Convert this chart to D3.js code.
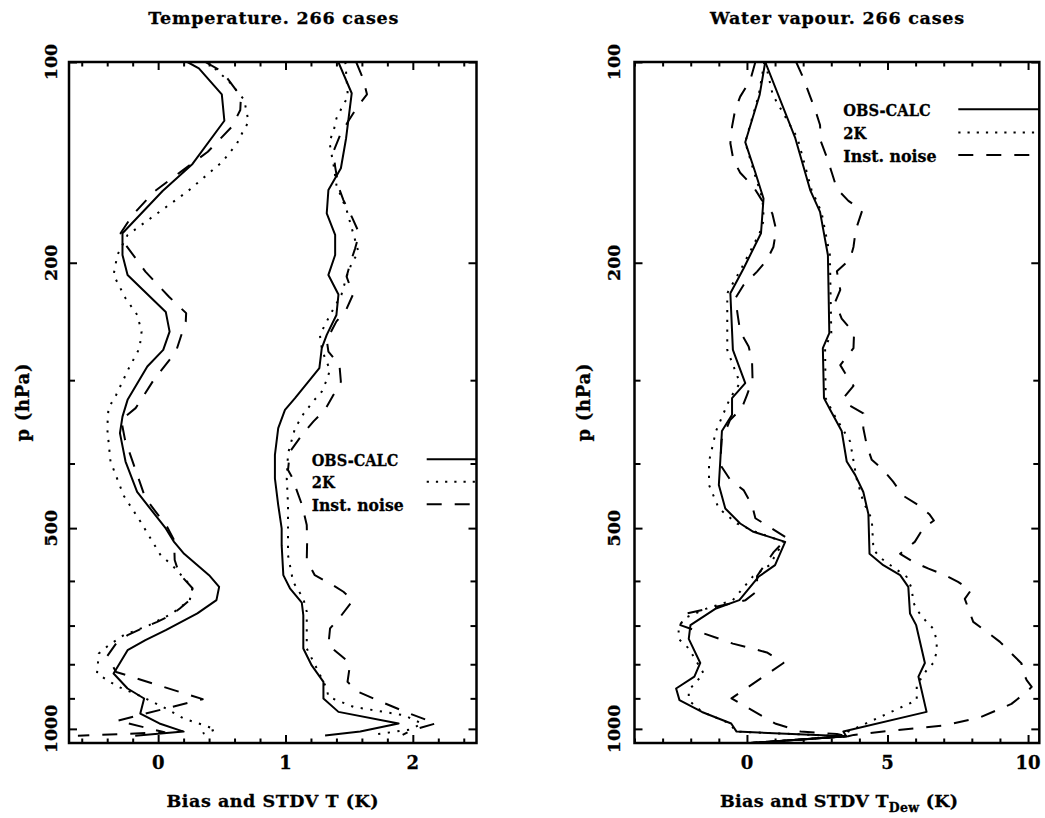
<!DOCTYPE html>
<html>
<head>
<meta charset="utf-8">
<script src="https://cdn.jsdelivr.net/npm/d3@7"></script>
<style>
  html, body { margin: 0; padding: 0; background: #fff; }
  svg { display: block; }
  text { font-family: "DejaVu Serif", serif; font-weight: bold; fill: #000; stroke: #000; stroke-width: 0.3px; }
</style>
</head>
<body>
<script>
// ---- Profiles: [pressure (hPa), value (K)] ----
// Temperature panel
const tempBiasObs = [[100,0.23],[102.2,0.32],[111.8,0.50],[122.5,0.52],[142.2,0.27],[156.1,0.035],[180.6,-0.28],[194.7,-0.28],[208.6,-0.24],[237,0.06],[253.7,0.09],[270.2,0.04],[286.2,-0.085],[321.1,-0.24],[340.2,-0.28],[360.2,-0.30],[397.3,-0.256],[441.3,-0.165],[500.5,0.06],[524.3,0.125],[546.4,0.204],[588.2,0.40],[612.4,0.479],[641.2,0.458],[671.3,0.308],[711.2,0.06],[736.2,-0.10],[762.1,-0.24],[826,-0.35],[869.9,-0.24],[900.4,-0.11],[948.4,-0.14],[981.5,0.01],[1009.4,0.2],[1024,-0.18]];
const tempBias2K = [[100,0.39],[107,0.557],[114,0.676],[122.9,0.71],[127.8,0.66],[132.4,0.62],[141.1,0.505],[156.4,0.23],[181.7,-0.24],[194.7,-0.32],[208.6,-0.35],[226.1,-0.256],[239.5,-0.164],[253.7,-0.13],[268.6,-0.146],[287.8,-0.23],[315.8,-0.33],[330.4,-0.39],[354.1,-0.40],[397.3,-0.374],[447.1,-0.27],[489.2,-0.138],[549.2,0.02],[568.2,0.11],[598.4,0.217],[614.2,0.27],[641.2,0.248],[671.3,0.11],[699,-0.07],[723.6,-0.27],[748.9,-0.387],[771,-0.466],[826,-0.48],[845.3,-0.40],[865.1,-0.31],[895.4,-0.124],[932,0.06],[964.8,0.20],[987.6,0.36],[1002.3,0.45],[1016.2,0.35]];
const tempBiasNoise = [[100,0.37],[103.4,0.505],[112.7,0.65],[118,0.645],[125,0.58],[136.3,0.39],[146,0.18],[156.4,-0.03],[169.6,-0.20],[180.6,-0.295],[187.9,-0.256],[206.2,-0.10],[224.9,0.085],[238,0.22],[244.9,0.217],[271.8,0.14],[299.8,-0.035],[315.8,-0.11],[330.4,-0.177],[344.2,-0.29],[368.6,-0.26],[450.8,-0.10],[497.7,0.07],[521.2,0.125],[558.1,0.13],[584.7,0.164],[615.4,0.27],[638.9,0.256],[659.8,0.17],[675.3,0.10],[691.2,-0.007],[699,-0.07],[723.6,-0.24],[744.6,-0.33],[778,-0.40],[821.5,-0.33],[902.5,0.35],[972.2,-0.32],[1012,0.05],[1024,-0.63]];
const tempStdvObs = [[100,1.415],[111.4,1.52],[130.1,1.476],[144.3,1.435],[155.6,1.337],[168.6,1.324],[181.7,1.39],[194.7,1.39],[208.6,1.337],[223.2,1.416],[239.5,1.40],[256.6,1.324],[268.6,1.285],[287.8,1.266],[319.2,1.075],[332.3,0.996],[354.1,0.943],[388.3,0.917],[421.1,0.917],[461.7,0.943],[500.5,0.97],[530.3,0.97],[588.2,0.983],[615.4,1.035],[646.9,1.128],[675.3,1.14],[757.5,1.14],[803.3,1.206],[850.1,1.298],[900.4,1.298],[943,1.416],[981.5,1.888],[1009.4,1.587],[1023,1.311]];
const tempStdv2K = [[100,1.47],[112.7,1.49],[117.3,1.44],[121.5,1.40],[126.4,1.38],[131.7,1.345],[137,1.36],[143.5,1.38],[152.9,1.40],[166.7,1.48],[192.7,1.573],[200.4,1.52],[209.8,1.48],[223.2,1.44],[239.5,1.35],[256.6,1.27],[268.6,1.285],[278,1.31],[289.4,1.35],[299.8,1.324],[312.1,1.285],[322.3,1.22],[337.4,1.14],[354.1,1.075],[386.3,1.02],[421.1,1.01],[461.7,1.02],[506.4,1.02],[549.2,1.02],[601.9,1.06],[637.6,1.14],[667.5,1.167],[757.5,1.167],[811.1,1.245],[869.9,1.324],[895.4,1.337],[926.8,1.534],[954,1.93],[981.5,2.07],[1002.3,1.98],[1020.9,1.68]];
const tempStdvNoise = [[100,1.555],[105.8,1.608],[111.8,1.64],[116.7,1.565],[122.9,1.49],[128.6,1.43],[136.3,1.376],[143.5,1.39],[153.8,1.416],[161.1,1.455],[170.6,1.52],[179.6,1.573],[184.9,1.565],[190.3,1.547],[200.4,1.508],[209.8,1.48],[223.2,1.53],[235.4,1.476],[244.9,1.40],[261,1.324],[271.8,1.337],[284.8,1.424],[301.6,1.435],[315.8,1.376],[332.3,1.31],[345.9,1.22],[360.2,1.14],[384,1.035],[409,1.02],[418.8,1.05],[461.7,1.13],[494.8,1.167],[524.3,1.17],[558.5,1.167],[588.2,1.23],[605.2,1.35],[622.9,1.455],[641.2,1.53],[679.2,1.43],[707,1.35],[748.9,1.337],[775,1.43],[797.8,1.508],[850.1,1.487],[880.4,1.573],[900.4,1.69],[943,1.94],[981.5,2.18],[1004.6,1.99],[1021,1.92]];

// Water vapour panel (dew point)
const wvBiasObs = [[100,0.65],[112.1,0.45],[131.9,-0.06],[146.1,0.29],[160.2,0.59],[180.6,0.50],[204,-0.12],[222.2,-0.59],[270.2,-0.50],[303,-0.06],[319.2,-0.53],[338.1,-0.53],[357.5,-0.89],[397.3,-0.95],[430.9,-1.0],[467.2,-0.77],[492.1,-0.24],[506.4,0.23],[524.3,1.36],[568.2,1.0],[591.5,0.41],[641.2,-0.27],[659.8,-1.1],[699,-2.01],[732.9,-2.07],[796.5,-1.66],[834.8,-1.87],[869.9,-2.52],[905.6,-2.4],[943.3,-1.6],[981.5,-0.56],[1009.4,-0.37],[1026,3.53],[1051,0]];
const wvBias2K = [[100,0.62],[112.1,0.42],[131.9,-0.06],[146.1,0.25],[160.2,0.55],[172.6,0.6],[180.6,0.45],[204,-0.20],[222.2,-0.70],[270.2,-0.70],[303,-0.25],[319.2,-0.6],[357.5,-1.1],[397.3,-1.35],[430.9,-1.35],[467.2,-1.0],[492.1,-0.35],[506.4,0.3],[524.3,1.3],[568.2,0.8],[591.5,0.2],[641.2,-0.5],[659.8,-1.42],[683,-2.25],[707.5,-2.43],[732.9,-2.43],[757.5,-2.07],[826,-1.54],[875,-2.07],[905.7,-2.07],[943,-1.6],[981.5,-0.6],[1009.4,-0.4],[1026,3.5],[1051,0]];
const wvBiasNoise = [[100,0.3],[106.4,0.12],[112.7,-0.24],[118,-0.42],[125,-0.53],[132.4,-0.59],[140.3,-0.48],[146.6,-0.24],[153.8,0.23],[161.1,0.53],[168.6,0.9],[178.6,1.04],[189.4,0.94],[198.1,0.71],[206.2,0.36],[216,-0.12],[226.1,-0.41],[239.5,-0.33],[253.7,-0.24],[267.1,0.06],[279.6,0.18],[299.8,0.2],[315.8,0],[330.4,-0.18],[344.2,-0.6],[368.6,-0.9],[401.6,-0.95],[423.6,-0.59],[438.5,-0.12],[461.7,0.18],[483.2,0.3],[517.6,1.43],[543.2,0.95],[589.9,0.36],[621.5,0.36],[641.2,-0.05],[673,-2.25],[699,-2.37],[745,-0.5],[768,0.71],[796.5,1.3],[900,-0.55],[981.5,1.0],[1009,1.9],[1018,3.2],[1026,3.6],[1051,0]];
const wvStdvObs = [[100,0.65],[130.1,1.72],[155.6,2.25],[167.8,2.6],[194.7,2.88],[255.1,2.93],[268.6,2.70],[319.2,2.74],[332.3,2.96],[357.5,3.37],[397.3,3.55],[416,3.85],[441.3,4.14],[476.2,4.32],[546.4,4.36],[568.2,4.85],[588.2,5.45],[612.4,5.74],[671.3,5.80],[699,6.02],[796.5,6.33],[834.8,6.10],[943,6.39],[1009.4,3.43],[1026,3.53],[1051,0]];
const wvStdv2K = [[100,0.65],[112.1,0.92],[130.1,1.8],[155.6,2.3],[167.8,2.65],[194.7,2.95],[255.1,3.0],[268.6,2.78],[319.2,2.8],[338.1,3.1],[370.7,3.67],[421.1,3.9],[456.8,4.14],[484.5,4.44],[538.1,4.5],[553.3,4.73],[574.9,5.27],[591.5,5.68],[615.4,5.86],[646.9,5.92],[667.5,6.1],[691.2,6.39],[707.5,6.63],[736.2,6.75],[766.8,6.75],[796.5,6.63],[816.6,6.39],[860,6.04],[905.7,6.04],[1009.4,3.6],[1026,3.5],[1051,0]];
const wvStdvNoise = [[100,1.75],[105.8,2.01],[112.7,2.25],[118,2.43],[124.3,2.6],[131.5,2.63],[138.9,2.84],[146.6,3.02],[154.9,3.2],[161.5,3.61],[167,4.1],[178.6,3.87],[189.4,3.79],[197.5,3.67],[206,3.2],[219.7,3.32],[229,3.14],[242.5,3.37],[255.1,3.81],[268.6,3.79],[284.8,3.32],[292.6,3.49],[305.9,3.79],[319.2,3.43],[327.8,3.67],[336.4,4.14],[354.1,4.14],[375.1,4.26],[395,4.44],[409,4.85],[425.9,5.2],[447.1,5.56],[461.7,6.09],[477.2,6.5],[487,6.65],[500.5,6.27],[524.3,5.97],[546.4,5.45],[562.1,5.92],[575.1,6.46],[588.2,7.05],[601.9,7.51],[619.4,7.97],[638.4,7.75],[691.2,8.05],[715.2,8.53],[740.5,9.0],[771,9.41],[797.8,9.77],[811.1,9.77],[845.3,9.95],[865.1,10.13],[879.9,9.95],[917.3,9.41],[961.4,8.29],[987.6,7.05],[1009,4.85],[1021,3.8],[1026,3.6],[1051,0]];

// ---- Axes and labels ----
const pressureDomain = [100, 1050];
const pressureTicks = [100, 200, 300, 400, 500, 600, 700, 800, 900, 1000];
const pressureLabels = [100, 200, 500, 1000];
const tempXDomain = [-0.7, 2.5];
const tempXLabels = [0, 1, 2];
const wvXDomain = [-4, 10.4];
const wvXLabels = [0, 5, 10];
const legendNames = ["OBS-CALC", "2K", "Inst. noise"];
const titles = ["Temperature. 266 cases", "Water vapour. 266 cases"];

// line styles for the three experiments
const styles = {
  solid:  { dash: null },
  dotted: { dash: "2.2 7.5" },
  dashed: { dash: "15 13" }
};

const W = 1045, H = 818;
const svg = d3.select("body").append("svg")
  .attr("width", W).attr("height", H)
  .attr("viewBox", `0 0 ${W} ${H}`);
svg.append("rect").attr("width", W).attr("height", H).attr("fill", "#fff");

const panels = [
  {
    id: "temp", title: titles[0], left: 69, right: 476.5, top: 62, bottom: 743,
    xDomain: tempXDomain, xMajor: tempXLabels, xMinorStep: 0.2,
    series: [
      { data: tempBiasObs, style: "solid" }, { data: tempBias2K, style: "dotted" }, { data: tempBiasNoise, style: "dashed" },
      { data: tempStdvObs, style: "solid" }, { data: tempStdv2K, style: "dotted" }, { data: tempStdvNoise, style: "dashed" }
    ],
    titleX: 273.3, titleW: 250,
    xlab: { parts: [["Bias and STDV T (K)", null]], x: 272.5, w: 212 },
    ylabX: 28.5, tickLabX: 56.5,
    legend: { textX: 311.7, lineX0: 426.7, rowY: [459.3, 481.8, 504.3], textW: [86.7, 23, 92] }
  },
  {
    id: "wv", title: titles[1], left: 634.5, right: 1039.3, top: 62, bottom: 743,
    xDomain: wvXDomain, xMajor: wvXLabels, xMinorStep: 1,
    series: [
      { data: wvBiasObs, style: "solid" }, { data: wvBias2K, style: "dotted" }, { data: wvBiasNoise, style: "dashed" },
      { data: wvStdvObs, style: "solid" }, { data: wvStdv2K, style: "dotted" }, { data: wvStdvNoise, style: "dashed" }
    ],
    titleX: 837, titleW: 254,
    xlab: { parts: [["Bias and STDV T", null], ["Dew", "sub"], [" (K)", null]], x: 839, w: 238 },
    ylabX: 590, tickLabX: 620,
    legend: { textX: 843.3, lineX0: 958.3, rowY: [109.3, 132.5, 155], textW: [87.3, 23, 93.3] }
  }
];

function drawPanel(p) {
  const g = svg.append("g").attr("class", "panel-" + p.id);
  const x = d3.scaleLinear().domain(p.xDomain).range([p.left, p.right]);
  const y = d3.scaleLog().domain(pressureDomain).range([p.top, p.bottom]);

  // clip region = plotting frame
  const clipId = "clip-" + p.id;
  svg.append("defs").append("clipPath").attr("id", clipId)
    .append("rect").attr("x", p.left).attr("y", p.top)
    .attr("width", p.right - p.left).attr("height", p.bottom - p.top);

  const line = d3.line().x(d => x(d[1])).y(d => y(d[0]));
  const curves = g.append("g").attr("clip-path", `url(#${clipId})`);
  p.series.forEach(s => {
    curves.append("path")
      .attr("d", line(s.data))
      .attr("fill", "none").attr("stroke", "#000")
      .attr("stroke-width", 2)
      .attr("stroke-linejoin", "round")
      .attr("stroke-dasharray", styles[s.style].dash);
  });

  // tick marks on all four sides, pointing inward
  const [d0, d1] = p.xDomain;
  const xMinor = d3.range(Math.ceil(d0 / p.xMinorStep - 1e-9) * p.xMinorStep, d1 + 1e-9, p.xMinorStep)
    .filter(v => !p.xMajor.some(m => Math.abs(m - v) < 1e-6));
  const yMinor = pressureTicks.filter(v => !pressureLabels.includes(v));

  const axes = g.append("g").attr("class", "ticks");
  const addAxis = (axis, tx, ty, len) => {
    const a = axes.append("g").attr("transform", `translate(${tx},${ty})`)
      .call(axis.tickSizeInner(-len).tickSizeOuter(0).tickFormat(""));
    a.select(".domain").remove();
    a.selectAll("line").attr("stroke", "#000").attr("stroke-width", 2);
  };
  addAxis(d3.axisBottom(x).tickValues(xMinor), 0, p.bottom, 4.5);
  addAxis(d3.axisBottom(x).tickValues(p.xMajor), 0, p.bottom, 8);
  addAxis(d3.axisTop(x).tickValues(xMinor), 0, p.top, 4.5);
  addAxis(d3.axisTop(x).tickValues(p.xMajor), 0, p.top, 8);
  addAxis(d3.axisLeft(y).tickValues(yMinor), p.left, 0, 6);
  addAxis(d3.axisLeft(y).tickValues(pressureLabels), p.left, 0, 8);
  addAxis(d3.axisRight(y).tickValues(yMinor), p.right, 0, 6);
  addAxis(d3.axisRight(y).tickValues(pressureLabels), p.right, 0, 8);

  // frame
  g.append("rect")
    .attr("x", p.left).attr("y", p.top)
    .attr("width", p.right - p.left).attr("height", p.bottom - p.top)
    .attr("fill", "none").attr("stroke", "#000").attr("stroke-width", 2.5);

  // x tick labels
  g.append("g").selectAll("text").data(p.xMajor).join("text")
    .attr("x", d => x(d)).attr("y", 768.5)
    .attr("text-anchor", "middle").attr("font-size", 18)
    .text(d => d);

  // y tick labels (rotated)
  g.append("g").selectAll("text").data(pressureLabels).join("text")
    .attr("transform", d => `translate(${p.tickLabX},${y(d)}) rotate(-90)`)
    .attr("text-anchor", "middle").attr("font-size", 17.5)
    .text(d => d);

  // y-axis title
  g.append("text")
    .attr("transform", `translate(${p.ylabX},${(p.top + p.bottom) / 2}) rotate(-90)`)
    .attr("text-anchor", "middle").attr("font-size", 18)
    .attr("textLength", 78).attr("lengthAdjust", "spacing")
    .text("p (hPa)");

  // panel title
  g.append("text")
    .attr("x", p.titleX).attr("y", 24)
    .attr("text-anchor", "middle").attr("font-size", 17.5)
    .attr("textLength", p.titleW).attr("lengthAdjust", "spacing")
    .text(p.title);

  // x-axis title (with optional subscript)
  const xt = g.append("text")
    .attr("x", p.xlab.x).attr("y", 807)
    .attr("text-anchor", "middle").attr("font-size", 17.5)
    .attr("textLength", p.xlab.w).attr("lengthAdjust", "spacing");
  p.xlab.parts.forEach(([t, kind], i) => {
    const ts = xt.append("tspan").text(t);
    if (kind === "sub") ts.attr("font-size", 12.5).attr("dy", 5);
    else if (i > 0 && p.xlab.parts[i - 1][1] === "sub") ts.attr("dy", -5);
  });

  // legend
  const lg = g.append("g").attr("class", "legend");
  ["solid", "dotted", "dashed"].forEach((st, i) => {
    const ry = p.legend.rowY[i];
    lg.append("text")
      .attr("x", p.legend.textX).attr("y", ry + 6.5)
      .attr("font-size", 17.5)
      .attr("textLength", p.legend.textW[i]).attr("lengthAdjust", "spacingAndGlyphs")
      .text(legendNames[i]);
    lg.append("line")
      .attr("x1", p.legend.lineX0).attr("x2", p.right)
      .attr("y1", ry).attr("y2", ry)
      .attr("stroke", "#000").attr("stroke-width", 2)
      .attr("stroke-dasharray", st === "dotted" ? "2.2 7" : styles[st].dash);
  });
}

panels.forEach(drawPanel);
</script>
</body>
</html>
